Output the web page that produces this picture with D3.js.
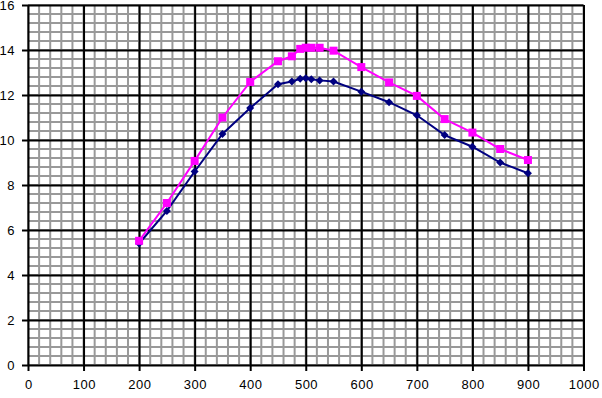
<!DOCTYPE html>
<html><head><meta charset="utf-8">
<script src="https://cdn.jsdelivr.net/npm/d3@7"></script>
<style>
html,body{margin:0;padding:0;background:#fff;}
svg{display:block;}
text{font-family:"Liberation Sans",Arial,sans-serif;font-size:13px;fill:#000;}
</style></head>
<body>
<svg id="c" width="602" height="398"></svg>
<script>
const xValues = [200,250,300,350,400,450,475,490,500,510,525,550,600,650,700,750,800,850,900];
const seriesBlue = [5.4,6.85,8.6,10.27,11.42,12.48,12.6,12.72,12.75,12.7,12.65,12.6,12.15,11.68,11.1,10.22,9.7,9.0,8.52];
const seriesPink = [5.52,7.2,9.07,11.0,12.58,13.5,13.72,14.05,14.1,14.1,14.1,13.97,13.24,12.56,11.96,10.93,10.33,9.6,9.11];
const xTicks = [0,100,200,300,400,500,600,700,800,900,1000];
const yTicks = [0,2,4,6,8,10,12,14,16];

const svg = d3.select("#c");
const x = d3.scaleLinear().domain([0,1000]).range([28,583.5]);
const y = d3.scaleLinear().domain([0,16]).range([365,5]);

// minor grid
const g = svg.append("g");
g.selectAll(".mx").data(d3.range(0,1001,20)).enter().append("line")
 .attr("x1",d=>x(d)).attr("x2",d=>x(d)).attr("y1",y(0)).attr("y2",y(16))
 .attr("stroke","#999").attr("stroke-width",2);
g.selectAll(".my").data(d3.range(0,81,2).map(d=>d/5)).enter().append("line")
 .attr("y1",d=>y(d)).attr("y2",d=>y(d)).attr("x1",x(0)).attr("x2",x(1000))
 .attr("stroke","#999").attr("stroke-width",2);

// major grid + axes
const xa = svg.append("g").attr("transform",`translate(0,${y(0)})`)
 .call(d3.axisBottom(x).tickValues(xTicks).tickSize(6).tickPadding(9).tickFormat(d3.format("d")));
xa.select(".domain").remove();
xa.selectAll("line").attr("stroke","#000").attr("stroke-width",2);
xa.selectAll(".tick").append("line").attr("y1",0).attr("y2",y(16)-y(0)).attr("stroke","#000").attr("stroke-width",2);
xa.selectAll("text").attr("font-size",13).attr("font-family","Liberation Sans, Arial, sans-serif")
 .attr("letter-spacing","0.5px").attr("dx","0.25px");

const ya = svg.append("g").attr("transform",`translate(${x(0)},0)`)
 .call(d3.axisLeft(y).tickValues(yTicks).tickSize(6).tickPadding(7).tickFormat(d3.format("d")));
ya.select(".domain").remove();
ya.selectAll("line").attr("stroke","#000").attr("stroke-width",2);
ya.selectAll(".tick").append("line").attr("x1",0).attr("x2",x(1000)-x(0)).attr("stroke","#000").attr("stroke-width",2);
ya.selectAll("text").attr("font-size",13).attr("font-family","Liberation Sans, Arial, sans-serif")
 .attr("letter-spacing","0.5px");

function drawSeries(vals,color,shape){
  const pts = xValues.map((v,i)=>[v,vals[i]]);
  svg.append("path").datum(pts)
   .attr("d",d3.line().x(d=>x(d[0])).y(d=>y(d[1])))
   .attr("fill","none").attr("stroke",color).attr("stroke-width",2);
  const s = svg.append("g");
  if(shape==="square"){
    s.selectAll("rect").data(pts).enter().append("rect")
     .attr("x",d=>x(d[0])-4).attr("y",d=>y(d[1])-4).attr("width",8).attr("height",8)
     .attr("fill",color);
  } else {
    s.selectAll("path").data(pts).enter().append("path")
     .attr("d",d=>{const cx=x(d[0]),cy=y(d[1]),r=4;return `M${cx},${cy-r}L${cx+r},${cy}L${cx},${cy+r}L${cx-r},${cy}Z`;})
     .attr("fill",color);
  }
}
drawSeries(seriesBlue,"#000080","diamond");
drawSeries(seriesPink,"#FF00FF","square");
</script>
</body></html>
